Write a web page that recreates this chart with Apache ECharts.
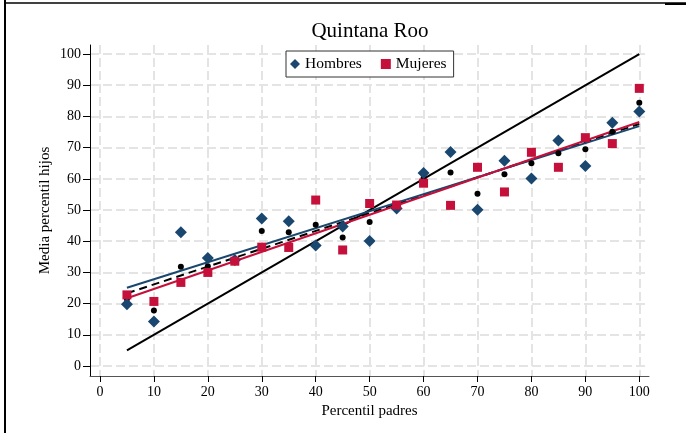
<!DOCTYPE html>
<html>
<head>
<meta charset="utf-8">
<script src="https://cdn.jsdelivr.net/npm/echarts@6/dist/echarts.min.js"></script>
<style>html,body{margin:0;padding:0;background:#fff;}#c{width:686px;height:433px;}</style>
</head>
<body>
<div id="c"></div>
<script>
var percentiles = [5,10,15,20,25,30,35,40,45,50,55,60,65,70,75,80,85,90,95,100];
var hombres = [19.8,14.3,42.9,34.6,34.0,47.3,46.4,38.6,44.7,40.1,50.5,61.9,68.6,50.1,65.8,60.1,72.3,64.1,78.0,81.6];
var mujeres = [22.8,20.7,26.8,30.0,33.6,38.1,38.0,53.2,37.2,52.1,51.6,58.6,51.5,63.7,55.8,68.5,63.7,73.2,71.3,89.0];
var total   = [21.5,17.8,31.8,32.0,33.8,43.3,42.9,45.3,41.2,46.2,51.0,60.2,62.0,55.2,61.5,65.0,68.2,69.5,75.1,84.4];
var fitHombres = [[5,25.1],[100,76.9]];
var fitMujeres = [[5,21.7],[100,78.2]];
var fitTotal   = [[5,23.3],[100,77.6]];
var diagonal   = [[5,5],[100,100]];
var tickValues = [0,10,20,30,40,50,60,70,80,90,100];

var blue = '#1a476f', red = '#c4103a';
var font = 'Liberation Serif';
function pairs(ys){ return percentiles.map(function(x,i){return [x, ys[i]];}); }

var chart = echarts.init(document.getElementById('c'), null, {renderer:'canvas'});
chart.setOption({
  backgroundColor:'#fff',
  animation:false,
  textStyle:{fontFamily:font},
  title:{text:'Quintana Roo', left:370, top:21, textAlign:'center', padding:0,
    textStyle:{fontFamily:font, fontSize:21, fontWeight:'normal', color:'#000'}},
  legend:{data:['Hombres','Mujeres'], left:286, top:51, width:169, height:26,
    padding:[5,7,5,4], itemGap:19, itemWidth:10, itemHeight:10,
    borderColor:'#333', borderWidth:1, backgroundColor:'#fff',
    textStyle:{fontFamily:font, fontSize:15.5, color:'#000'}},
  grid:{left:90, right:37, top:45, bottom:57, containLabel:false},
  xAxis:{type:'value', min:-1.85, max:101.8,
    name:'Percentil padres', nameLocation:'middle', nameGap:25,
    nameTextStyle:{fontFamily:font, fontSize:15, color:'#000'},
    axisLine:{show:true, onZero:false, lineStyle:{color:'#555', width:1}},
    axisTick:{show:true, length:6, customValues:tickValues, lineStyle:{color:'#000'}},
    axisLabel:{customValues:tickValues, margin:9, fontFamily:font, fontSize:14, color:'#000'},
    splitLine:{show:true, lineStyle:{color:'#e4e4e4', width:2, type:[9,4]}}},
  yAxis:{type:'value', min:-3.2, max:102.9,
    name:'Media percentil hijos', nameLocation:'middle', nameGap:37, nameMoveOverlap:false,
    nameTextStyle:{fontFamily:font, fontSize:15, color:'#000'},
    axisLine:{show:true, onZero:false, lineStyle:{color:'#000', width:1}},
    axisTick:{show:true, length:7, customValues:tickValues, lineStyle:{color:'#000'}},
    axisLabel:{customValues:tickValues, margin:9, fontFamily:font, fontSize:14, color:'#000'},
    splitLine:{show:true, lineStyle:{color:'#e4e4e4', width:2, type:[9,4]}}},
  graphic:[
    {type:'line', shape:{x1:5,y1:0,x2:5,y2:433}, style:{stroke:'#000', lineWidth:2}, silent:true},
    {type:'line', shape:{x1:5,y1:3,x2:686,y2:3}, style:{stroke:'#000', lineWidth:1.3}, silent:true},
    {type:'line', shape:{x1:665,y1:4,x2:686,y2:4}, style:{stroke:'#000', lineWidth:2}, silent:true}
  ],
  series:[
    {name:'diag', type:'line', data:diagonal, symbol:'none', lineStyle:{color:'#000', width:2}, z:3},
    {name:'fitT', type:'line', data:fitTotal, symbol:'none', lineStyle:{color:'#000', width:2, type:[8,5]}, z:3},
    {name:'fitH', type:'line', data:fitHombres, symbol:'none', lineStyle:{color:blue, width:2}, z:3},
    {name:'fitM', type:'line', data:fitMujeres, symbol:'none', lineStyle:{color:red, width:2}, z:3},
    {name:'Total', type:'scatter', data:pairs(total), symbol:'circle', symbolSize:6, itemStyle:{color:'#000', opacity:1}, z:4},
    {name:'Hombres', type:'scatter', data:pairs(hombres), symbol:'diamond', symbolSize:[12,12], itemStyle:{color:blue, opacity:1}, z:5},
    {name:'Mujeres', type:'scatter', data:pairs(mujeres), symbol:'rect', symbolSize:9, itemStyle:{color:red, opacity:1}, z:6}
  ]
});
</script>
</body>
</html>
